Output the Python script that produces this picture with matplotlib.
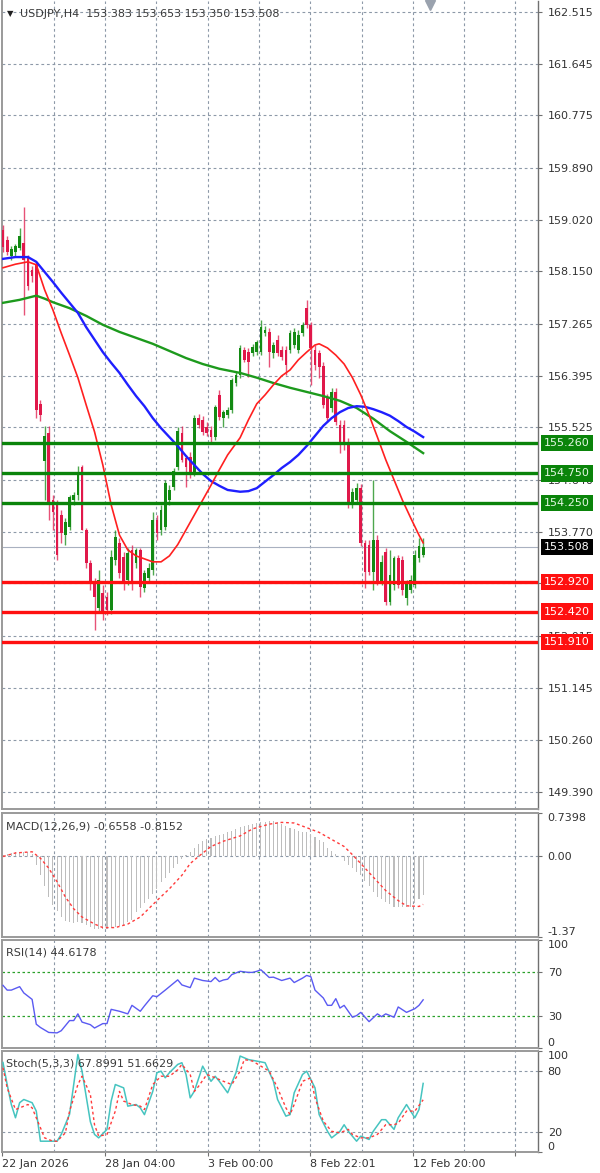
import matplotlib
matplotlib.use("Agg")
import matplotlib.pyplot as plt
import matplotlib.transforms as mtransforms
import numpy as np

# ---- price data (USDJPY H4) ----
opens = [158.846, 158.678, 158.408, 158.476, 158.543, 158.627, 158.375, 158.173, 158.274, 155.918,
         154.956, 155.430, 154.302, 154.218, 154.049, 153.713, 153.848, 154.302, 154.386, 154.857,
         153.797, 153.242, 152.905, 152.484, 152.737, 152.669, 152.451, 153.292, 153.578, 153.343,
         152.956, 153.461, 153.242, 153.461, 152.821, 152.989, 153.124, 153.965, 153.797, 153.848,
         154.302, 154.521, 154.857, 155.430, 155.009, 155.025, 154.756, 155.682, 155.648, 155.531,
         155.480, 155.362, 156.069, 155.682, 155.732, 155.817, 156.271, 156.406, 156.827, 156.793,
         156.776, 156.793, 156.793, 157.113, 157.129, 156.776, 156.995, 156.827, 156.827, 156.827,
         156.911, 156.827, 157.113, 157.533, 157.248, 156.827, 156.776, 156.557, 156.019, 155.851,
         156.120, 155.564, 155.564, 155.278, 154.218, 154.302, 154.504, 153.578, 153.545, 153.091,
         153.629, 152.922, 153.427, 152.585, 152.872, 153.326, 153.292, 152.653, 152.787, 152.872,
         153.330, 153.383]
highs = [158.930, 158.745, 158.577, 158.610, 158.880, 159.233, 158.425, 158.240, 158.308, 155.985,
         155.548, 155.548, 154.386, 154.302, 154.134, 154.000, 154.386, 154.437, 154.874, 154.891,
         153.831, 153.292, 152.989, 153.124, 152.872, 152.753, 153.461, 153.797, 153.663, 153.427,
         153.494, 153.545, 153.494, 153.494, 153.124, 153.242, 154.100, 154.049, 154.218, 154.639,
         154.555, 154.841, 155.531, 155.548, 155.059, 155.110, 155.732, 155.749, 155.716, 155.615,
         155.548, 155.901, 156.153, 155.817, 155.867, 156.355, 156.456, 156.911, 156.877, 156.860,
         156.928, 156.995, 157.331, 157.230, 157.197, 156.961, 157.079, 156.894, 156.894, 157.163,
         157.197, 157.163, 157.298, 157.668, 157.298, 156.911, 156.827, 156.625, 156.086, 156.187,
         156.187, 155.648, 155.648, 155.346, 154.504, 154.588, 154.571, 153.629, 153.629, 154.639,
         153.713, 153.376, 153.494, 153.461, 153.360, 153.376, 153.359, 152.956, 153.040, 153.461,
         153.663, 153.653]
lows = [158.476, 158.425, 158.341, 158.408, 158.509, 157.416, 157.836, 157.971, 155.682, 155.631,
        154.302, 153.965, 153.797, 153.292, 153.578, 153.545, 153.797, 154.218, 154.302, 153.797,
        153.158, 152.787, 152.114, 152.417, 152.282, 152.366, 152.383, 153.208, 152.990, 152.787,
        152.872, 152.787, 153.158, 152.669, 152.754, 152.922, 153.040, 153.629, 153.713, 153.797,
        154.218, 154.470, 154.807, 154.941, 154.521, 154.672, 154.706, 155.514, 155.396, 155.379,
        155.278, 155.312, 155.648, 155.531, 155.682, 155.766, 156.221, 156.355, 156.625, 156.372,
        156.726, 156.742, 156.742, 157.062, 156.540, 156.692, 156.726, 156.658, 156.406, 156.776,
        156.860, 156.776, 157.062, 157.197, 156.238, 156.490, 156.355, 155.851, 155.615, 155.783,
        155.564, 155.093, 155.143, 154.168, 154.168, 154.251, 153.528, 152.821, 153.040, 152.787,
        152.872, 152.872, 152.535, 152.535, 152.787, 152.821, 152.703, 152.535, 152.737, 152.821,
        153.259, 153.350]
closes = [158.560, 158.476, 158.526, 158.577, 158.745, 158.341, 157.904, 158.072, 155.817, 155.732,
          155.379, 154.218, 154.100, 153.376, 153.747, 153.932, 154.352, 154.386, 154.756, 153.797,
          153.242, 152.905, 152.669, 152.956, 152.417, 152.451, 153.343, 153.679, 153.074, 152.905,
          153.410, 152.905, 153.461, 152.838, 153.074, 153.158, 153.965, 153.747, 154.134, 154.588,
          154.470, 154.790, 155.463, 154.975, 154.857, 154.756, 155.682, 155.564, 155.447, 155.430,
          155.362, 155.867, 155.699, 155.783, 155.817, 156.322, 156.406, 156.860, 156.658, 156.625,
          156.877, 156.961, 157.214, 157.163, 156.793, 156.911, 156.776, 156.709, 156.574, 157.113,
          157.129, 157.079, 157.248, 157.248, 156.860, 156.574, 156.541, 155.901, 155.682, 156.120,
          155.615, 155.278, 155.228, 154.218, 154.437, 154.504, 153.578, 153.091, 153.091, 153.629,
          152.922, 153.259, 152.585, 153.040, 153.326, 152.872, 152.787, 152.922, 152.956, 153.376,
          153.520, 153.508]

# moving averages (bar index, price)
ma_red_bar = [0, 3, 6, 8, 10, 12, 14, 16, 18, 20, 22, 24, 26, 28, 30, 32, 34, 36, 38, 40, 42, 44, 46, 48,
              50, 52, 54, 57, 59, 61, 63, 65, 67, 69, 71, 73, 75, 76, 78, 80, 82, 84, 86, 88, 90, 92,
              94, 96, 98, 100, 101]
ma_red = [158.21, 158.27, 158.31, 158.26, 157.84, 157.50, 157.11, 156.74, 156.36, 155.90, 155.45,
          154.89, 154.22, 153.71, 153.46, 153.36, 153.31, 153.26, 153.26, 153.36, 153.55, 153.80,
          154.05, 154.30, 154.55, 154.81, 155.06, 155.35, 155.65, 155.92, 156.07, 156.24, 156.39,
          156.49, 156.66, 156.79, 156.91, 156.93, 156.86, 156.74, 156.59, 156.36, 156.07, 155.73,
          155.36, 154.98, 154.64, 154.30, 154.00, 153.71, 153.58]
ma_blue_bar = [0, 3, 6, 8, 10, 12, 14, 16, 18, 20, 22, 24, 26, 28, 30, 32, 34, 36, 38, 40, 42, 44, 46,
               48, 50, 52, 54, 57, 59, 61, 63, 65, 67, 69, 71, 73, 75, 77, 79, 81, 83, 85, 87, 89, 91,
               93, 95, 97, 99, 101]
ma_blue = [158.36, 158.39, 158.39, 158.31, 158.14, 157.97, 157.79, 157.62, 157.45, 157.21, 157.00,
           156.79, 156.61, 156.44, 156.24, 156.05, 155.88, 155.68, 155.51, 155.36, 155.21, 155.04,
           154.89, 154.74, 154.62, 154.54, 154.47, 154.44, 154.45, 154.50, 154.61, 154.72, 154.84,
           154.94, 155.06, 155.21, 155.38, 155.55, 155.68, 155.78, 155.85, 155.88, 155.87, 155.83,
           155.78, 155.72, 155.63, 155.53, 155.45, 155.36]
ma_green_bar = [0, 4, 8, 10, 12, 16, 20, 24, 28, 32, 36, 40, 44, 48, 52, 57, 61, 65, 69, 73, 77, 81,
                85, 89, 93, 97, 101]
ma_green = [157.62, 157.67, 157.74, 157.69, 157.63, 157.53, 157.40, 157.25, 157.13, 157.03, 156.93,
            156.81, 156.69, 156.59, 156.51, 156.44, 156.36, 156.27, 156.19, 156.12, 156.05, 155.97,
            155.85, 155.67, 155.46, 155.28, 155.09]

resistance = [155.260, 154.750, 154.250]
support = [152.920, 152.420, 151.910]

price_ticks = [162.515, 161.645, 160.775, 159.890, 159.020, 158.150, 157.265, 156.395, 155.525,
               154.640, 153.770, 152.900, 152.015, 151.145, 150.260, 149.390]

# MACD(12,26,9)
macd_hist = [0.03, 0.05, 0.06, 0.07, 0.08, 0.08, 0.07, 0.04, -0.14, -0.31,
             -0.51, -0.69, -0.83, -0.92, -1.03, -1.09, -1.12, -1.13, -1.12, -1.13,
             -1.17, -1.20, -1.23, -1.24, -1.24, -1.23, -1.21, -1.20, -1.19, -1.16,
             -1.12, -1.08, -0.95, -0.88, -0.80, -0.72, -0.63, -0.55, -0.43, -0.36,
             -0.28, -0.20, -0.12, -0.04, 0.02, 0.08, 0.15, 0.22, 0.26, 0.29,
             0.32, 0.35, 0.37, 0.39, 0.41, 0.44, 0.47, 0.50, 0.52, 0.54,
             0.55, 0.57, 0.58, 0.59, 0.60, 0.60, 0.58, 0.56, 0.52, 0.49,
             0.47, 0.44, 0.42, 0.41, 0.38, 0.33, 0.28, 0.24, 0.15, 0.09,
             0.04, 0.00, -0.08, -0.14, -0.20, -0.26, -0.31, -0.42, -0.51, -0.60,
             -0.69, -0.73, -0.78, -0.81, -0.86, -0.86, -0.86, -0.86, -0.86, -0.80,
             -0.73, -0.6558]
macd_sig_bar = [0, 3, 7, 9, 11, 13, 15, 17, 19, 22, 24, 27, 30, 33, 35, 37, 40, 43, 45, 47, 50, 53,
                57, 60, 64, 67, 70, 73, 76, 79, 82, 84, 86, 89, 92, 95, 97, 100, 101]
macd_sig = [0.0, 0.06, 0.08, -0.03, -0.20, -0.43, -0.69, -0.89, -1.03, -1.15, -1.21, -1.21, -1.15,
            -1.03, -0.89, -0.75, -0.55, -0.32, -0.12, 0.0, 0.17, 0.26, 0.35, 0.47, 0.55, 0.58, 0.57,
            0.49, 0.41, 0.29, 0.17, 0.03, -0.12, -0.35, -0.58, -0.75, -0.84, -0.85, -0.8152]

# RSI(14)
rsi_bar = [0, 1, 2, 4, 5, 7, 8, 9, 11, 13, 14, 16, 17, 18, 19, 21, 22, 24, 25, 26, 28, 30, 31, 33,
           34, 36, 37, 39, 42, 43, 45, 46, 48, 50, 51, 52, 53, 54, 55, 57, 59, 60, 61, 62, 64, 65,
           67, 69, 70, 72, 73, 74, 75, 77, 78, 79, 80, 81, 82, 84, 85, 86, 88, 90, 91, 92, 94, 95,
           97, 99, 100, 101]
rsi_val = [58, 53.6, 53.6, 56.8, 51, 45, 22, 19, 14.4, 14, 16, 25.4, 25.4, 31.6, 24, 21.6, 18.5,
           22.6, 22.6, 35.8, 34, 31.6, 39.5, 34, 39, 48.4, 47.5, 53.6, 63.1, 58.4, 55.9, 64.7, 62.5,
           61.5, 65.3, 61.5, 63, 63.7, 68, 71, 70, 70, 71, 72.4, 65.3, 65.6, 62.5, 64.7, 60.6, 64.7,
           67.2, 66, 53.6, 46.3, 39.5, 39.5, 45.7, 37, 39.5, 28.5, 30, 33, 24.4, 31.6, 29, 31.6,
           28.5, 38, 33, 36.4, 39.5, 44.6178]

# Stochastic(5,3,3)
stk_bar = [0, 1, 2, 3, 4, 5, 7, 8, 9, 11, 13, 14, 16, 17, 18, 19, 20, 21, 22, 23, 25, 26, 27, 29,
           30, 32, 33, 34, 36, 37, 38, 39, 40, 42, 43, 44, 45, 46, 48, 50, 51, 52, 54, 56, 57, 59,
           61, 63, 65, 66, 68, 69, 70, 72, 73, 75, 76, 78, 79, 81, 82, 83, 85, 86, 88, 89, 91, 92,
           94, 95, 97, 99, 100, 101]
stk_val = [88.6, 66.8, 47, 33.9, 48.8, 52, 48.8, 40.5, 10.7, 10.7, 10.7, 17.4, 37.4, 66.8, 96.5,
           80, 55, 30, 17.4, 14, 22.4, 50.4, 66.8, 63.5, 45.4, 47, 43.7, 37, 60, 78.5, 80, 73.5,
           78.5, 86.7, 88.4, 76.8, 53.6, 60.2, 85, 70, 75, 70, 58.6, 78.5, 95, 91.5, 90, 88.4, 70,
           52, 35.5, 37, 58.6, 76.8, 80, 63.5, 37, 20.5, 14, 20.5, 27, 20.5, 10.7, 15.7, 12.4,
           20.5, 32, 32, 22.4, 33.9, 47, 33.9, 42, 67.8991]
std_bar = [0, 1, 3, 4, 6, 7, 9, 10, 12, 13, 15, 16, 18, 19, 21, 22, 23, 25, 27, 28, 29, 31, 33, 34,
           36, 38, 40, 42, 43, 45, 46, 47, 49, 51, 53, 55, 57, 58, 60, 62, 64, 66, 68, 69, 70, 72,
           74, 75, 77, 79, 81, 83, 84, 86, 88, 90, 92, 94, 95, 97, 99, 101]
std_val = [83.4, 63.5, 42, 43.7, 47, 43.7, 24, 14, 10.7, 10.7, 19, 40.5, 66.8, 75, 57, 27, 15.7,
           17.4, 40.5, 60, 50.4, 47, 45.4, 42, 66.8, 75, 75, 81.4, 86.7, 76.8, 60, 65, 76.8, 73.5,
           70, 66.8, 80, 91.5, 90, 85, 80, 63.5, 43.7, 37, 47, 70, 73.5, 53.6, 30.5, 20.5, 19, 22.4,
           17.4, 14, 14, 17.4, 27, 27, 28.5, 40.5, 40.5, 51.6629]

date_labels = ['22 Jan 2026', '28 Jan 04:00', '3 Feb 00:00', '8 Feb 22:01', '12 Feb 20:00']
symbol = 'USDJPY,H4'

# ---- style ----
GREEN_C = '#138a13'
RED_C = '#e0184a'
GRID = '#8d99a8'
AXIS_TXT = '#333333'
FS = 8
plt.rcParams['font.family'] = ['DejaVu Sans']

W, H = 600, 1173
RIGHT = 538  # pixel column of the price axis


def rect(x0, y0, x1, y1):
    return [x0 / W, 1 - y1 / H, (x1 - x0) / W, (y1 - y0) / H]


fig = plt.figure(figsize=(W / 100, H / 100), dpi=100)
fig.patch.set_facecolor('white')
ax = fig.add_axes(rect(2, 1, RIGHT, 809))
ax_macd = fig.add_axes(rect(2, 813, RIGHT, 937), sharex=ax)
ax_rsi = fig.add_axes(rect(2, 940, RIGHT, 1048), sharex=ax)
ax_st = fig.add_axes(rect(2, 1051, RIGHT, 1152), sharex=ax)
axes = [ax, ax_macd, ax_rsi, ax_st]

bars = np.arange(len(closes))
o = np.array(opens)
h = np.array(highs)
l = np.array(lows)
c = np.array(closes)

# one grid column every ~12.3 bars, like the terminal
grid_step = 12.33
grid_x = -0.12 + grid_step * np.arange(0, 11)

for a in axes:
    a.set_facecolor('white')
    for x in grid_x[1:]:
        a.axvline(x, color=GRID, lw=0.8, ls=(0, (2.5, 2.5)), zorder=0)
    for s in a.spines.values():
        s.set_color('#9a9a9a')
        s.set_linewidth(1.4)
    a.spines['right'].set_color('#707070')
    a.spines['right'].set_linewidth(1.0)
    a.yaxis.tick_right()
    a.tick_params(axis='y', which='both', length=3, width=0.8, colors='#707070',
                  labelcolor=AXIS_TXT, labelsize=FS, pad=4, direction='out')
    a.tick_params(axis='x', length=0, labelbottom=False)
ax.spines['top'].set_visible(False)

ax.set_xlim(-0.24, (RIGHT - 3) / 4.16)

# ---- main chart ----
ax.set_ylim(149.10, 162.70)
ax.set_yticks(price_ticks)
ax.set_yticklabels([f'{p:.3f}' for p in price_ticks])
for p in price_ticks:
    ax.axhline(p, color=GRID, lw=0.8, ls=(0, (2.5, 2.5)), zorder=0)

up = c >= o
cols = np.where(up, GREEN_C, RED_C)
ax.vlines(bars, l, h, colors=cols, lw=1.0, alpha=0.75, zorder=3)
body_low = np.minimum(o, c)
body_h = np.maximum(np.abs(c - o), 0.02)
ax.bar(bars, body_h, bottom=body_low, width=0.66, color=cols, linewidth=0, zorder=3)

ax.plot(ma_green_bar, ma_green, color='#1d9a1d', lw=1.7, zorder=4, solid_joinstyle='round')
ax.plot(ma_blue_bar, ma_blue, color='#1f1fff', lw=1.7, zorder=4, solid_joinstyle='round')
ax.plot(ma_red_bar, ma_red, color='#ff2020', lw=1.2, zorder=4, solid_joinstyle='round')

ax.axhline(closes[-1], color='#a9b1c0', lw=0.8, zorder=2)

blend = mtransforms.blended_transform_factory(ax.transAxes, ax.transData)
lab_x = 1.011
for lvl in resistance:
    ax.axhline(lvl, color='#0a840a', lw=2.4, zorder=5)
    ax.text(lab_x, lvl, f'{lvl:.3f}', transform=blend, ha='left', va='center', fontsize=FS,
            color='#e4f7e4', zorder=7, clip_on=False,
            bbox=dict(boxstyle='square,pad=0.3', fc='#0a840a', ec='none'))
for lvl in support:
    ax.axhline(lvl, color='#ff1010', lw=2.4, zorder=5)
    ax.text(lab_x, lvl, f'{lvl:.3f}', transform=blend, ha='left', va='center', fontsize=FS,
            color='white', zorder=7, clip_on=False,
            bbox=dict(boxstyle='square,pad=0.3', fc='#ff1010', ec='none'))
ax.text(lab_x, closes[-1], f'{closes[-1]:.3f}', transform=blend, ha='left', va='center',
        fontsize=FS, color='white', zorder=7, clip_on=False,
        bbox=dict(boxstyle='square,pad=0.3', fc='black', ec='none'))

# chart shift marker at the top
top_blend = mtransforms.blended_transform_factory(ax.transData, ax.transAxes)
ax.plot([bars[-1] + 1.6], [0.995], marker='v', ms=7, color='#9aa2ae', transform=top_blend,
        clip_on=False, zorder=8)

fig.text(7 / W, 1 - 13.5 / H, '\u25bc', fontsize=6, color='#202020', va='center')
fig.text(20 / W, 1 - 14 / H,
         f'{symbol}  {opens[-1]:.3f} {highs[-1]:.3f} {lows[-1]:.3f} {closes[-1]:.3f}',
         fontsize=FS, color='#3a3a3a', va='center')

# ---- MACD ----
ax_macd.set_ylim(-1.37, 0.7398)
ax_macd.bar(bars, macd_hist, width=0.26, color='#bdbdbd', linewidth=0, zorder=2)
ax_macd.plot(macd_sig_bar, macd_sig, color='#ff3b3b', lw=1.0, ls=(0, (2, 2)), zorder=3)
ax_macd.axhline(0, color=GRID, lw=0.8, ls=(0, (2.5, 2.5)), zorder=1)
ax_macd.set_yticks([0.7398, 0.0, -1.37])
ax_macd.set_yticklabels(['0.7398', '0.00', '-1.37'])
tl = ax_macd.get_yticklabels()
tl[0].set_va('top')
tl[2].set_va('bottom')
ax_macd.text(0.008, 0.93, f'MACD(12,26,9) {macd_hist[-1]:.4f} {macd_sig[-1]:.4f}',
             transform=ax_macd.transAxes, fontsize=FS, color='#3a3a3a', va='top')

# ---- RSI ----
ax_rsi.set_ylim(0, 100)
for lv in (70, 30):
    ax_rsi.axhline(lv, color='#2aa02a', lw=0.9, ls=(0, (2, 2)), zorder=1)
ax_rsi.plot(rsi_bar, rsi_val, color='#5a5af2', lw=1.0, zorder=3)
ax_rsi.set_yticks([100, 70, 30, 0])
ax_rsi.set_yticklabels(['100', '70', '30', '0'])
tl = ax_rsi.get_yticklabels()
tl[0].set_va('top')
tl[3].set_va('bottom')
ax_rsi.text(0.008, 0.93, f'RSI(14) {rsi_val[-1]:.4f}', transform=ax_rsi.transAxes,
            fontsize=FS, color='#3a3a3a', va='top')

# ---- Stochastic ----
ax_st.set_ylim(0, 100)
for lv in (80, 20):
    ax_st.axhline(lv, color=GRID, lw=0.8, ls=(0, (2.5, 2.5)), zorder=1)
ax_st.plot(stk_bar, stk_val, color='#46c4c0', lw=1.1, zorder=3)
ax_st.plot(std_bar, std_val, color='#ff3b3b', lw=1.0, ls=(0, (2, 2)), zorder=3)
ax_st.set_yticks([100, 80, 20, 0])
ax_st.set_yticklabels(['100', '80', '20', '0'])
tl = ax_st.get_yticklabels()
tl[0].set_va('top')
tl[3].set_va('bottom')
ax_st.text(0.008, 0.93, f'Stoch(5,3,3) {stk_val[-1]:.4f} {std_val[-1]:.4f}',
           transform=ax_st.transAxes, fontsize=FS, color='#3a3a3a', va='top')

ax_st.set_xticks(grid_x[0::2])
ax_st.set_xticklabels(date_labels + [''])
ax_st.tick_params(axis='x', length=3, width=0.8, colors='#707070', labelcolor=AXIS_TXT,
                  labelsize=FS, labelbottom=True, pad=2)
for t in ax_st.get_xticklabels():
    t.set_ha('left')

fig.savefig('out.png', dpi=100, facecolor='white')
